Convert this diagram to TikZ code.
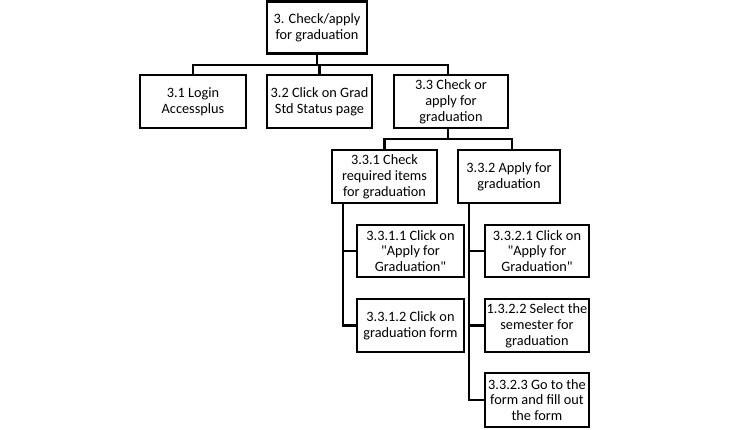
\documentclass[tikz,border=0pt]{standalone}
\usepackage{fontspec}
\setmainfont{Carlito}[Ligatures=TeXOff]
\begin{document}
\begin{tikzpicture}[x=1pt,y=-1pt,
  box/.style={draw=black,line width=2.2pt,fill=white,align=center,inner sep=0pt,
    font=\fontsize{14.3}{15.8}\selectfont},
  conn/.style={draw=black,line width=2.2pt}]
\useasboundingbox (0,0) rectangle (732,430);
\node[box,minimum width=100pt,minimum height=52pt] (top) at (317,27.5) {3. Check/apply\\for graduation};
\node[box,minimum width=106pt,minimum height=53pt] (c31) at (193,101.5) {3.1 Login\\Accessplus};
\node[box,minimum width=105pt,minimum height=53pt] (c32) at (319.5,101.5) {3.2 Click on Grad\\Std Status page};
\node[box,minimum width=114pt,minimum height=53pt] (c33) at (451,101.5) {3.3 Check or\\apply for\\graduation};
\node[box,minimum width=105pt,minimum height=53pt] (c331) at (384.5,176.5) {3.3.1 Check\\required items\\for graduation};
\node[box,minimum width=102pt,minimum height=53pt] (c332) at (509,176.5) {3.3.2 Apply for\\graduation};
\node[box,minimum width=107pt,minimum height=52pt] (c3311) at (410.5,251) {3.3.1.1 Click on\\"Apply for\\Graduation"};
\node[box,minimum width=107pt,minimum height=53pt] (c3312) at (410.5,325.5) {3.3.1.2 Click on\\graduation form};
\node[box,minimum width=104pt,minimum height=52pt] (c3321) at (537,251) {3.3.2.1 Click on\\"Apply for\\Graduation"};
\node[box,minimum width=104pt,minimum height=53pt] (c3322) at (537,325.5) {1.3.2.2 Select the\\semester for\\graduation};
\node[box,minimum width=104pt,minimum height=54pt] (c3323) at (537,400) {3.3.2.3 Go to the\\form and fill out\\the form};
\draw[conn] (top.south) -- (top.south |- 0,65) -| (c31.north);
\draw[conn] (top.south) -- (top.south |- 0,65) -| (c32.north);
\draw[conn] (top.south) -- (top.south |- 0,65) -| ([xshift=-3pt]c33.north);
\draw[conn] ([xshift=-3pt]c33.south) -- ([xshift=-3pt]c33.south |- 0,139) -| (c331.north);
\draw[conn] ([xshift=-3pt]c33.south) -- ([xshift=-3pt]c33.south |- 0,139) -| ([xshift=3pt]c332.north);
\draw[conn] (c331.south -| 343,0) |- (c3311.west);
\draw[conn] (c331.south -| 343,0) |- (c3312.west);
\draw[conn] (c332.south -| 469,0) |- (c3321.west);
\draw[conn] (c332.south -| 469,0) |- (c3322.west);
\draw[conn] (c332.south -| 469,0) |- (c3323.west);
\end{tikzpicture}
\end{document}
